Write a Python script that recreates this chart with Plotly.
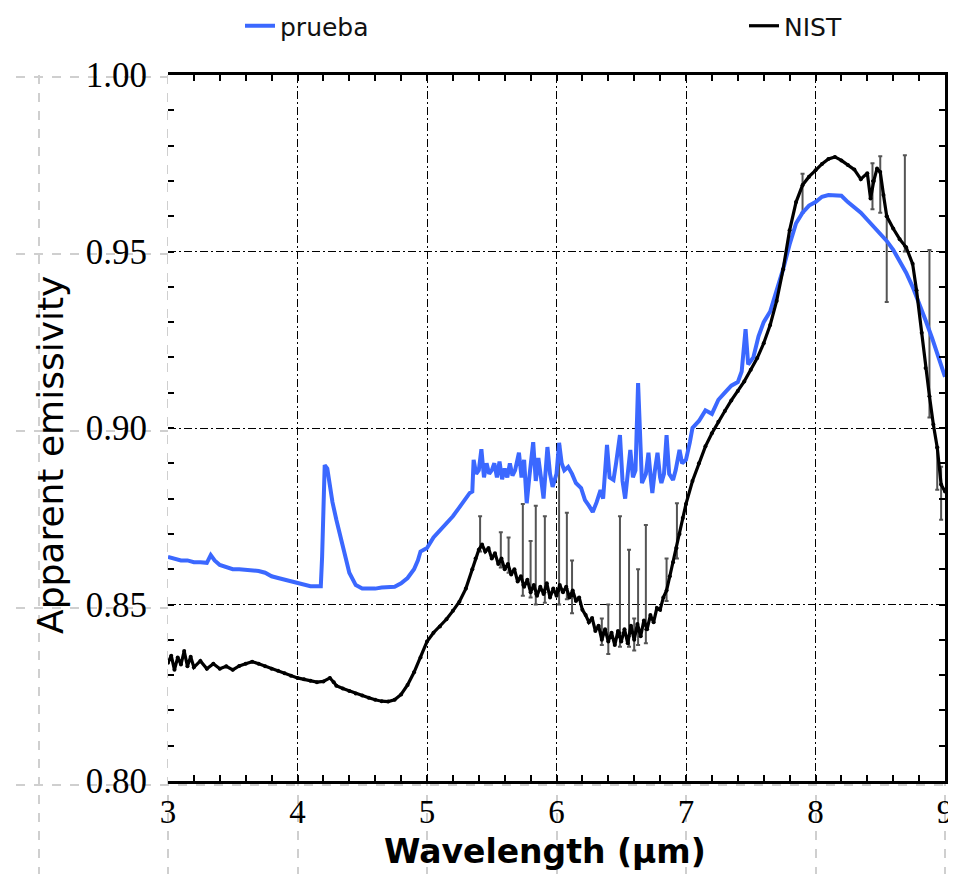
import plotly.graph_objects as go

# ---------------- data ----------------
prueba_wl = [3.00, 3.05, 3.10, 3.15, 3.20, 3.25, 3.30, 3.33, 3.36, 3.40, 3.45, 3.50, 3.55, 3.60,
             3.65, 3.70, 3.75, 3.80, 3.85, 3.90, 3.95, 4.00, 4.05, 4.10, 4.15, 4.18, 4.19, 4.21,
             4.23, 4.25, 4.27, 4.30, 4.33, 4.36, 4.40, 4.45, 4.50, 4.55, 4.60, 4.65, 4.70, 4.75,
             4.80, 4.85, 4.90, 4.93, 4.95, 5.00, 5.05, 5.10, 5.15, 5.20, 5.25, 5.30, 5.33, 5.35,
             5.36, 5.38, 5.40, 5.42, 5.44, 5.46, 5.48, 5.50, 5.52, 5.54, 5.56, 5.58, 5.60, 5.62,
             5.64, 5.66, 5.68, 5.71, 5.73, 5.75, 5.77, 5.79, 5.82, 5.84, 5.86, 5.88, 5.90, 5.93,
             5.95, 5.97, 6.00, 6.02, 6.04, 6.06, 6.09, 6.12, 6.15, 6.19, 6.22, 6.25, 6.28, 6.31,
             6.34, 6.36, 6.39, 6.41, 6.44, 6.46, 6.49, 6.51, 6.53, 6.55, 6.57, 6.59, 6.61, 6.63,
             6.65, 6.66, 6.69, 6.71, 6.73, 6.74, 6.76, 6.78, 6.80, 6.81, 6.83, 6.85, 6.87, 6.90,
             6.92, 6.95, 6.97, 7.00, 7.03, 7.05, 7.10, 7.15, 7.20, 7.25, 7.30, 7.35, 7.40, 7.43,
             7.46, 7.48, 7.52, 7.56, 7.60, 7.65, 7.70, 7.75, 7.80, 7.85, 7.90, 7.95, 8.00, 8.05,
             8.10, 8.15, 8.20, 8.25, 8.30, 8.35, 8.40, 8.45, 8.50, 8.55, 8.60, 8.65, 8.70, 8.75,
             8.80, 8.85, 8.90, 8.95, 9.00]
prueba_val = [0.8635, 0.8630, 0.8625, 0.8625, 0.8620, 0.8620, 0.8618, 0.8640, 0.8625, 0.8612,
              0.8605, 0.8600, 0.8600, 0.8598, 0.8595, 0.8595, 0.8590, 0.8580, 0.8575, 0.8570,
              0.8565, 0.8560, 0.8555, 0.8552, 0.8552, 0.8552, 0.8635, 0.8895, 0.8885, 0.8830,
              0.8790, 0.8740, 0.8700, 0.8650, 0.8590, 0.8555, 0.8545, 0.8545, 0.8545, 0.8548,
              0.8548, 0.8550, 0.8560, 0.8575, 0.8600, 0.8625, 0.8650, 0.8660, 0.8690, 0.8710,
              0.8730, 0.8750, 0.8775, 0.8800, 0.8816, 0.8820, 0.8910, 0.8870, 0.8880, 0.8940,
              0.8860, 0.8900, 0.8870, 0.8880, 0.8900, 0.8860, 0.8905, 0.8855, 0.8885, 0.8860,
              0.8900, 0.8865, 0.8880, 0.8930, 0.8860, 0.8910, 0.8787, 0.8860, 0.8960, 0.8850,
              0.8915, 0.8860, 0.8800, 0.8946, 0.8870, 0.8833, 0.8870, 0.8958, 0.8900, 0.8880,
              0.8890, 0.8870, 0.8844, 0.8830, 0.8796, 0.8780, 0.8762, 0.8790, 0.8824, 0.8800,
              0.8952, 0.8860, 0.8853, 0.8900, 0.8980, 0.8850, 0.8800, 0.8870, 0.8938, 0.8860,
              0.8880, 0.9127, 0.8880, 0.8844, 0.8870, 0.8930, 0.8850, 0.8816, 0.8880, 0.8930,
              0.8860, 0.8844, 0.8870, 0.8980, 0.8870, 0.8853, 0.8880, 0.8938, 0.8900, 0.8910,
              0.8960, 0.9000, 0.9020, 0.9050, 0.9040, 0.9080, 0.9100, 0.9120, 0.9130, 0.9160,
              0.9280, 0.9180, 0.9200, 0.9260, 0.9300, 0.9330, 0.9390, 0.9450, 0.9520, 0.9580,
              0.9610, 0.9630, 0.9640, 0.9655, 0.9660, 0.9660, 0.9658, 0.9640, 0.9625, 0.9610,
              0.9590, 0.9570, 0.9550, 0.9530, 0.9505, 0.9475, 0.9440, 0.9400, 0.9355, 0.9305,
              0.9255, 0.9200, 0.9145]

nist_wl = [3.000, 3.025, 3.050, 3.075, 3.100, 3.125, 3.150, 3.175, 3.200, 3.250, 3.300, 3.350,
           3.400, 3.450, 3.500, 3.550, 3.600, 3.650, 3.700, 3.750, 3.800, 3.850, 3.900, 3.950,
           4.000, 4.050, 4.100, 4.150, 4.200, 4.250, 4.280, 4.300, 4.350, 4.400, 4.450, 4.500,
           4.550, 4.600, 4.650, 4.700, 4.750, 4.800, 4.850, 4.900, 4.950, 5.000, 5.050, 5.100,
           5.150, 5.200, 5.250, 5.300, 5.350, 5.375, 5.400, 5.425, 5.450, 5.475, 5.500, 5.525,
           5.550, 5.575, 5.600, 5.625, 5.650, 5.675, 5.700, 5.725, 5.750, 5.775, 5.800, 5.825,
           5.850, 5.875, 5.900, 5.925, 5.950, 5.975, 6.000, 6.025, 6.050, 6.075, 6.100, 6.125,
           6.150, 6.175, 6.200, 6.225, 6.250, 6.275, 6.300, 6.325, 6.350, 6.375, 6.400, 6.425,
           6.450, 6.475, 6.500, 6.525, 6.550, 6.575, 6.600, 6.625, 6.650, 6.675, 6.700, 6.725,
           6.750, 6.775, 6.800, 6.825, 6.850, 6.875, 6.900, 6.925, 6.950, 6.975, 7.000, 7.050,
           7.100, 7.150, 7.200, 7.250, 7.300, 7.350, 7.400, 7.450, 7.500, 7.550, 7.600, 7.650,
           7.700, 7.750, 7.800, 7.850, 7.900, 7.950, 8.000, 8.050, 8.100, 8.150, 8.200, 8.250,
           8.300, 8.350, 8.400, 8.425, 8.450, 8.475, 8.500, 8.525, 8.550, 8.600, 8.650, 8.700,
           8.750, 8.780, 8.820, 8.850, 8.880, 8.910, 8.940, 8.970, 9.000]
nist_val = [0.8335, 0.8355, 0.8315, 0.8350, 0.8330, 0.8368, 0.8325, 0.8352, 0.8322, 0.8340,
            0.8318, 0.8332, 0.8318, 0.8325, 0.8315, 0.8326, 0.8332, 0.8338, 0.8332, 0.8325,
            0.8318, 0.8312, 0.8305, 0.8298, 0.8292, 0.8288, 0.8284, 0.8280, 0.8282, 0.8292,
            0.8280, 0.8270, 0.8262, 0.8255, 0.8248, 0.8242, 0.8236, 0.8230, 0.8226, 0.8225,
            0.8230, 0.8245, 0.8272, 0.8308, 0.8350, 0.8395, 0.8420, 0.8438, 0.8458, 0.8482,
            0.8508, 0.8545, 0.8600, 0.8630, 0.8655, 0.8670, 0.8650, 0.8660, 0.8630, 0.8645,
            0.8615, 0.8630, 0.8600, 0.8615, 0.8585, 0.8600, 0.8565, 0.8580, 0.8550, 0.8570,
            0.8535, 0.8555, 0.8525, 0.8550, 0.8530, 0.8560, 0.8520, 0.8545, 0.8525, 0.8555,
            0.8535, 0.8550, 0.8520, 0.8540, 0.8510, 0.8520, 0.8485, 0.8470, 0.8450, 0.8462,
            0.8425, 0.8440, 0.8400, 0.8430, 0.8395, 0.8420, 0.8385, 0.8425, 0.8395, 0.8430,
            0.8390, 0.8440, 0.8400, 0.8445, 0.8410, 0.8455, 0.8430, 0.8470, 0.8450, 0.8490,
            0.8485, 0.8520, 0.8540, 0.8580, 0.8620, 0.8660, 0.8700, 0.8745, 0.8785, 0.8850,
            0.8900, 0.8948, 0.8985, 0.9018, 0.9048, 0.9078, 0.9105, 0.9132, 0.9165, 0.9198,
            0.9240, 0.9292, 0.9360, 0.9450, 0.9560, 0.9640, 0.9688, 0.9712, 0.9730, 0.9748,
            0.9762, 0.9768, 0.9758, 0.9745, 0.9732, 0.9705, 0.9722, 0.9650, 0.9700, 0.9735,
            0.9725, 0.9660, 0.9600, 0.9565, 0.9535, 0.9512, 0.9465, 0.9390, 0.9270, 0.9170,
            0.9090, 0.9010, 0.8945, 0.8840, 0.8820]

# NIST uncertainty spikes: wavelength, value, upper and lower extent
spike_wl = [5.41, 5.57, 5.63, 5.74, 5.80, 5.84, 5.91, 6.02, 6.08, 6.12, 6.35, 6.40, 6.49,
            6.56, 6.60, 6.63, 6.69, 6.85, 6.93, 7.90, 8.44, 8.50, 8.55, 8.69, 8.88, 8.94, 8.97]
spike_val = [0.8660, 0.8625, 0.8610, 0.8555, 0.8540, 0.8530, 0.8535, 0.8540, 0.8545, 0.8525,
             0.8420, 0.8400, 0.8420, 0.8410, 0.8420, 0.8425, 0.8430, 0.8540, 0.8660, 0.9690,
             0.9700, 0.9725, 0.9600, 0.9515, 0.9090, 0.8945, 0.8840]
spike_up = [0.0090, 0.0080, 0.0080, 0.0230, 0.0140, 0.0250, 0.0215, 0.0410, 0.0215, 0.0100,
            0.0040, 0.0100, 0.0330, 0.0245, 0.0040, 0.0175, 0.0295, 0.0090, 0.0127, 0.0030,
            0.0050, 0.0045, 0.0000, 0.0258, 0.0414, 0.0000, 0.0050]
spike_down = [0.0010, 0.0020, 0.0020, 0.0030, 0.0020, 0.0030, 0.0030, 0.0040, 0.0030, 0.0050,
              0.0035, 0.0040, 0.0040, 0.0030, 0.0050, 0.0040, 0.0040, 0.0030, 0.0030, 0.0080,
              0.0080, 0.0115, 0.0243, 0.0015, 0.0060, 0.0120, 0.0100]

x_ticks = [3, 4, 5, 6, 7, 8, 9]
y_ticks = [0.80, 0.85, 0.90, 0.95, 1.00]
y_ticklabels = ["0.80", "0.85", "0.90", "0.95", "1.00"]
x_title = "Wavelength (μm)"
y_title = "Apparent emissivity"

BLUE = "#3b68ff"

fig = go.Figure()

# invisible anchor trace for the background (outer) grid axes
fig.add_trace(go.Scatter(x=[None], y=[None], xaxis="x", yaxis="y", showlegend=False,
                         hoverinfo="skip"))

fig.add_trace(go.Scatter(x=spike_wl, y=spike_val, xaxis="x2", yaxis="y2", mode="markers",
                         marker=dict(size=3, color="black"), showlegend=False,
                         error_y=dict(type="data", symmetric=False, array=spike_up,
                                      arrayminus=spike_down, color="#555555",
                                      thickness=2, width=2)))

fig.add_trace(go.Scatter(x=prueba_wl, y=prueba_val, xaxis="x2", yaxis="y2", mode="lines",
                         name="prueba", legend="legend",
                         line=dict(color=BLUE, width=4)))
fig.add_trace(go.Scatter(x=nist_wl, y=nist_val, xaxis="x2", yaxis="y2", mode="lines",
                         name="NIST", legend="legend2",
                         line=dict(color="black", width=3.2)))
# measured points of the NIST curve (dotted look of the original)
fig.add_trace(go.Scatter(x=nist_wl, y=nist_val, xaxis="x2", yaxis="y2", mode="markers",
                         marker=dict(size=4, color="black"), showlegend=False,
                         hoverinfo="skip"))

PX = 129.5  # px per micron
grid_black = "8px,3px,2px,3px"
legend_font = dict(family="DejaVu Sans", size=25, color="#111")

# the page adds an 8px body margin, so the figure is 8px smaller than the window
fig.update_layout(
    width=948, height=866,
    margin=dict(l=8, r=6, t=67, b=0, autoexpand=False),
    paper_bgcolor="white", plot_bgcolor="white",
    showlegend=True,
    legend=dict(x=(240 - 16) / 934, y=1 + 49 / 799, xanchor="left", yanchor="middle",
                font=legend_font, bgcolor="rgba(0,0,0,0)"),
    legend2=dict(x=(744 - 16) / 934, y=1 + 49 / 799, xanchor="left", yanchor="middle",
                 font=legend_font, bgcolor="rgba(0,0,0,0)"),
    # outer background grid
    xaxis=dict(domain=[0, 1], range=[3 - 152 / PX, 9 + 5 / PX], showgrid=True,
               gridcolor="#cfcfcf", griddash="dash", gridwidth=1.5, tickvals=x_ticks + [2],
               showticklabels=False, ticks="", zeroline=False, showline=False,
               fixedrange=True, automargin=False),
    yaxis=dict(domain=[0, 1], range=[1.0 - 797 / 3540, 1.0 + 2 / 3540], showgrid=True,
               gridcolor="#cfcfcf", griddash="dash", gridwidth=1.5, tickvals=y_ticks,
               showticklabels=False, ticks="", zeroline=False, showline=False,
               fixedrange=True, automargin=False),
    # main axes
    xaxis2=dict(domain=[152 / 934, 929 / 934], anchor="y2", range=[3, 9],
                tickvals=x_ticks, ticktext=[str(v) for v in x_ticks],
                showgrid=True, gridcolor="black", griddash=grid_black, gridwidth=1.4,
                showline=True, linecolor="black", linewidth=2.5, mirror="allticks",
                ticks="inside", ticklen=6, tickwidth=2, tickcolor="black",
                minor=dict(dtick=0.2, ticks="inside", ticklen=6, tickwidth=2,
                           tickcolor="black", showgrid=False),
                zeroline=False, ticklabelstandoff=0, automargin=False,
                tickfont=dict(family="Liberation Serif", size=33, color="black")),
    yaxis2=dict(domain=[93 / 799, 1.0], anchor="x2", range=[0.80, 1.00],
                tickvals=y_ticks, ticktext=y_ticklabels,
                showgrid=True, gridcolor="black", griddash=grid_black, gridwidth=1.4,
                showline=False, ticks="inside", ticklen=6, tickwidth=2, tickcolor="black",
                minor=dict(dtick=0.01, ticks="inside", ticklen=6, tickwidth=2,
                           tickcolor="black", showgrid=False),
                zeroline=False, ticklabelstandoff=20, automargin=False,
                tickfont=dict(family="Liberation Serif", size=35, color="black")),
    yaxis3=dict(overlaying="y2", anchor="x2", side="right", range=[0.80, 1.00],
                tickvals=y_ticks, showticklabels=False, showgrid=False,
                showline=True, linecolor="black", linewidth=2.5,
                ticks="inside", ticklen=6, tickwidth=2, tickcolor="black",
                minor=dict(dtick=0.01, ticks="inside", ticklen=6, tickwidth=2,
                           tickcolor="black", showgrid=False),
                zeroline=False, automargin=False),
    annotations=[
        dict(text="<b>" + x_title + "</b>", xref="paper", yref="paper",
             x=(545 - 16) / 934, y=(874 - 851) / 799, xanchor="center", yanchor="middle",
             showarrow=False, font=dict(family="DejaVu Sans", size=33, color="black")),
        dict(text=y_title, xref="paper", yref="paper", textangle=-90,
             x=(51 - 16) / 934, y=(874 - 455) / 799, xanchor="center", yanchor="middle",
             showarrow=False, font=dict(family="DejaVu Sans", size=36, color="black")),
    ],
)
# dummy trace to activate yaxis3
fig.add_trace(go.Scatter(x=[None], y=[None], xaxis="x2", yaxis="y3", showlegend=False,
                         hoverinfo="skip"))

fig.write_html("out.html")
